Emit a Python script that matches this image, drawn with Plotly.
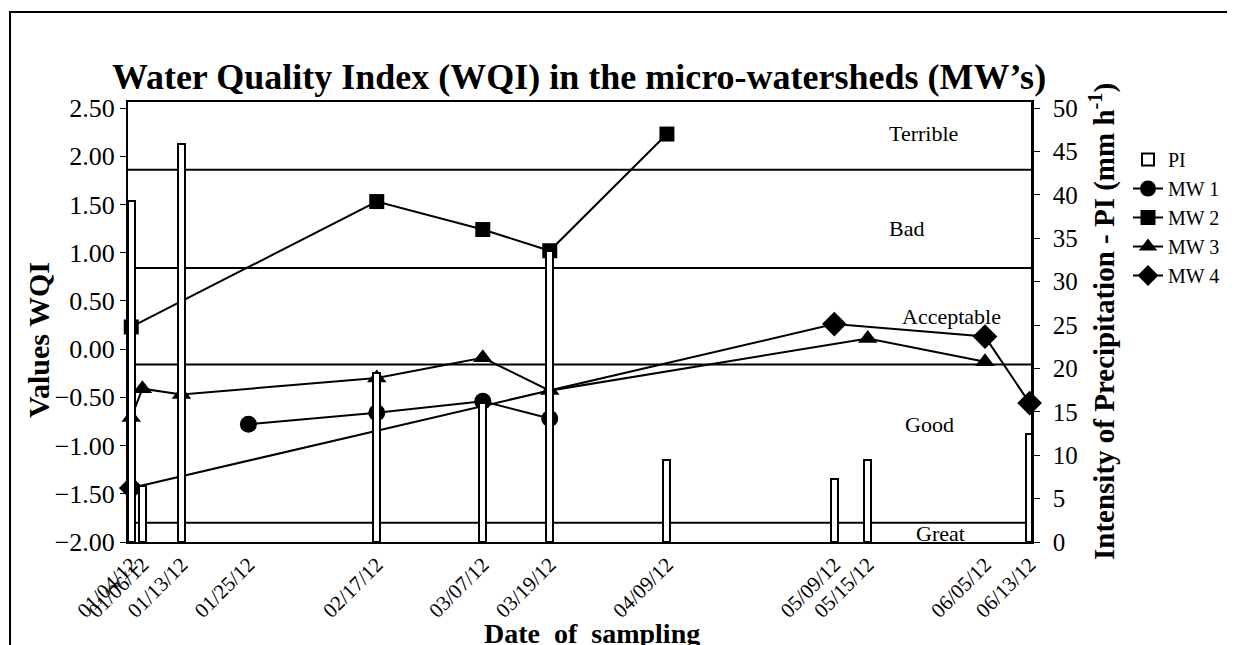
import plotly.graph_objects as go

# ---- data ----
tick_dates = ["2012-01-04", "2012-01-06", "2012-01-13", "2012-01-25", "2012-02-17", "2012-03-07",
              "2012-03-19", "2012-04-09", "2012-05-09", "2012-05-15", "2012-06-05", "2012-06-13"]
tick_labels = ["01/04/12", "01/06/12", "01/13/12", "01/25/12", "02/17/12", "03/07/12",
               "03/19/12", "04/09/12", "05/09/12", "05/15/12", "06/05/12", "06/13/12"]

pi_dates = ["2012-01-04", "2012-01-06", "2012-01-13", "2012-02-17", "2012-03-07", "2012-03-19",
            "2012-04-09", "2012-05-09", "2012-05-15", "2012-06-13"]
pi_values = [39.3, 6.4, 45.8, 19.5, 16.0, 33.5, 9.4, 7.3, 9.4, 12.5]

mw1_dates = ["2012-01-25", "2012-02-17", "2012-03-07", "2012-03-19"]
mw1_values = [-0.78, -0.66, -0.54, -0.72]

mw2_dates = ["2012-01-04", "2012-02-17", "2012-03-07", "2012-03-19", "2012-04-09"]
mw2_values = [0.23, 1.53, 1.24, 1.02, 2.23]

mw3_dates = ["2012-01-04", "2012-01-06", "2012-01-13", "2012-02-17", "2012-03-07", "2012-03-19",
             "2012-05-15", "2012-06-05"]
mw3_values = [-0.71, -0.41, -0.47, -0.30, -0.09, -0.43, 0.11, -0.13]

mw4_dates = ["2012-01-04", "2012-05-09", "2012-06-05", "2012-06-13"]
mw4_values = [-1.44, 0.26, 0.13, -0.56]

band_limits = [1.86, 0.84, -0.16, -1.80]
band_names = ["Terrible", "Bad", "Acceptable", "Good", "Great"]
band_label_y = [2.24, 1.25, 0.34, -0.78, -1.91]
band_label_x = ["2012-05-25", "2012-05-22", "2012-05-30", "2012-05-26", "2012-05-28"]

FONT = "Liberation Serif"
DAY_MS = 86400000

# the page places the figure 8px in from the window corner; target positions are screen pixels
OFF = 8
W, H = 1235, 645
L, R, T, B = 128 - OFF, 1031 - OFF, 102 - OFF, 542 - OFF
pw, ph = R - L, B - T


def px(xs):
    return (xs - OFF - L) / pw


def py(ys):
    return (B - (ys - OFF)) / ph


fig = go.Figure()
fig.add_trace(go.Bar(
    x=pi_dates, y=pi_values, name="PI", yaxis="y2", width=DAY_MS * 1.25,
    marker=dict(color="white", line=dict(color="black", width=2)),
))
sym = [("MW 1", mw1_dates, mw1_values, "circle", 17),
       ("MW 2", mw2_dates, mw2_values, "square", 15),
       ("MW 3", mw3_dates, mw3_values, "triangle-up", 17),
       ("MW 4", mw4_dates, mw4_values, "diamond", 19)]
for name, xs, ys, s, sz in sym:
    fig.add_trace(go.Scatter(
        x=xs, y=ys, name=name, mode="lines+markers", cliponaxis=False,
        line=dict(color="black", width=2),
        marker=dict(symbol=s, size=sz, color="black"),
    ))

shapes = []
for b in band_limits:
    shapes.append(dict(type="line", xref="paper", yref="y", x0=0, x1=1, y0=b, y1=b,
                       line=dict(color="black", width=2), layer="below"))
# outer frame of the figure
shapes.append(dict(type="rect", xref="paper", yref="paper",
                   x0=px(10), x1=px(W + 40), y0=py(H + 40), y1=py(12),
                   line=dict(color="black", width=2), fillcolor="rgba(0,0,0,0)"))

annotations = []
for nm, xv, yv in zip(band_names, band_label_x, band_label_y):
    annotations.append(dict(x=xv, y=yv, xref="x", yref="y", text=nm, showarrow=False,
                            font=dict(family=FONT, size=22, color="black")))
# axis titles
annotations.append(dict(x=px(592), y=py(633), xref="paper", yref="paper",
                        text="<b>Date&nbsp;&nbsp;of&nbsp;&nbsp;sampling</b>", showarrow=False,
                        xanchor="center", yanchor="middle",
                        font=dict(family=FONT, size=28, color="black")))
annotations.append(dict(x=px(38), y=py(340), xref="paper", yref="paper",
                        text="<b>Values WQI</b>", showarrow=False, textangle=-90,
                        xanchor="center", yanchor="middle",
                        font=dict(family=FONT, size=30, color="black")))
annotations.append(dict(x=px(1102), y=py(322), xref="paper", yref="paper",
                        text="<b>Intensity of Precipitation - PI (mm h<sup>-1</sup>)</b>",
                        showarrow=False, textangle=-90, xanchor="center", yanchor="middle",
                        font=dict(family=FONT, size=29, color="black")))

ytop = 2.5 + 6 / 96.2
fig.update_layout(
    width=W, height=H,
    margin=dict(l=L, r=W - R, t=T, b=H - B),
    paper_bgcolor="white", plot_bgcolor="white",
    font=dict(family=FONT, color="black"),
    title=dict(text="<b>Water Quality Index (WQI) in the micro-watersheds (MW’s)</b>",
               x=(579 - OFF) / W, xanchor="center", y=1 - (76 - OFF) / H, yanchor="middle",
               font=dict(family=FONT, size=36, color="black")),
    xaxis=dict(type="date", range=["2012-01-03 10:00", "2012-06-13 06:00"],
               tickvals=tick_dates, ticktext=tick_labels, tickangle=-45,
               tickfont=dict(family=FONT, size=21, color="black"),
               showgrid=False, zeroline=False, showline=True, linecolor="black", linewidth=2,
               mirror=True, ticks="", automargin=False),
    yaxis=dict(range=[-2.0, ytop], tick0=-2.0, dtick=0.5, tickformat=".2f",
               tickfont=dict(family=FONT, size=26, color="black"),
               showgrid=False, zeroline=False, showline=True, linecolor="black", linewidth=2,
               ticks="outside", ticklen=6, tickcolor="black", automargin=False),
    yaxis2=dict(range=[0, 50 * (ytop + 2.0) / 4.5], tick0=0, dtick=5, overlaying="y", side="right",
                tickfont=dict(family=FONT, size=25, color="black"),
                showgrid=False, zeroline=False, showline=True, linecolor="black", linewidth=2.5,
                ticks="outside", ticklen=6, tickcolor="black", automargin=False,
                ticklabelstandoff=8),
    legend=dict(x=px(1128), y=py(140), xanchor="left", yanchor="top",
                bgcolor="rgba(0,0,0,0)",
                font=dict(family=FONT, size=20, color="black"), tracegroupgap=0, itemwidth=30),
    showlegend=True,
    shapes=shapes, annotations=annotations, bargap=0,
)
fig.write_html("out.html")
